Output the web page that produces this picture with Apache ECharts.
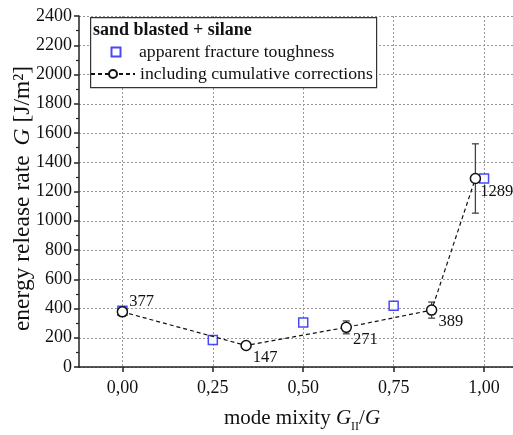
<!DOCTYPE html>
<html><head><meta charset="utf-8">
<script src="https://cdn.jsdelivr.net/npm/echarts@6/dist/echarts.min.js"></script>
<style>html,body{margin:0;padding:0;background:#fff}#c{width:513px;height:435px}</style>
</head><body><div id="c"></div>
<script>
// ---- data ----
const apparentX = [0, 0.25, 0.5, 0.75, 1.0];
const apparentY = [384, 184, 305, 418, 1289];
const cumX = [0, 0.342, 0.619, 0.855, 0.976];
const cumY = [377, 147, 271, 389, 1289];
const cumErr = [28, 15, 44, 55, 237];
const xTicks = [0, 0.25, 0.5, 0.75, 1.0];
const yTicks = [0, 200, 400, 600, 800, 1000, 1200, 1400, 1600, 1800, 2000, 2200, 2400];
const legendTitle = 'sand blasted + silane';
const nameApparent = 'apparent fracture toughness';
const nameCum = 'including cumulative corrections';

const FONT = 'Liberation Serif';
const chart = echarts.init(document.getElementById('c'), null, {renderer: 'canvas'});
const grid = {left: 79, right: 0, top: 16, bottom: 68, containLabel: false, outerBoundsMode: 'none'};
const gridLine = {show: true, lineStyle: {color: '#999', type: [2, 2], width: 1}};

const labelOffsets = [[1, -10], [1, 12], [1, 12], [1, 12], [-1, 13]];

chart.setOption({
  animation: false,
  backgroundColor: '#fff',
  grid: grid,
  xAxis: {
    type: 'value', min: -0.12, max: 1.08,
    axisLine: {show: true, onZero: false, lineStyle: {color: '#222', width: 1.5}},
    axisTick: {show: true, customValues: xTicks, length: 5, lineStyle: {color: '#222', width: 1.5}},
    axisLabel: {customValues: xTicks, margin: 12, fontFamily: FONT, fontSize: 18, color: '#111',
      formatter: v => v.toFixed(2).replace('.', ',')},
    splitLine: gridLine,
    name: '{n|mode mixity }{i|G}{s|II}{n|/}{i|G}',
    nameLocation: 'middle', nameGap: 36, nameMoveOverlap: false,
    nameTextStyle: {padding: [0, 0, 0, 12], rich: {
      n: {fontFamily: FONT, fontSize: 21, color: '#111', lineHeight: 26, verticalAlign: 'bottom'},
      i: {fontFamily: FONT, fontSize: 21, fontStyle: 'italic', color: '#111', lineHeight: 26, verticalAlign: 'bottom'},
      s: {fontFamily: FONT, fontSize: 12, color: '#111', lineHeight: 12, verticalAlign: 'bottom', padding: [0, 0, -4, 0]}
    }}
  },
  yAxis: {
    type: 'value', min: 0, max: 2400, interval: 200,
    axisLine: {show: true, onZero: false, lineStyle: {color: '#222', width: 1.5}},
    axisTick: {show: true, length: 5, lineStyle: {color: '#222', width: 1.5}},
    minorTick: {show: true, splitNumber: 2, length: 3, lineStyle: {color: '#222', width: 1.2}},
    axisLabel: {margin: 7, fontFamily: FONT, fontSize: 18, color: '#111', formatter: v => String(v)},
    splitLine: gridLine,
    name: '{n|energy release rate}{i|G}{n| [J/m²]}',
    nameLocation: 'middle', nameGap: 44, nameMoveOverlap: false,
    nameTextStyle: {padding: [0, 14, 0, 0], rich: {
      n: {fontFamily: FONT, fontSize: 23.5, color: '#111'},
      i: {fontFamily: FONT, fontSize: 23.5, fontStyle: 'italic', color: '#111', padding: [0, 0, 0, 10]}
    }}
  },
  legend: [
    {
      data: [nameApparent], orient: 'vertical', left: 110.5, top: 43, padding: 0,
      itemWidth: 9, itemHeight: 9, z: 6,
      textStyle: {fontFamily: FONT, fontSize: 17.7, color: '#111', padding: [0, 0, 0, 13.5]}
    },
    {
      data: [nameCum], orient: 'vertical', left: 90, top: 65, padding: 0,
      itemWidth: 44, itemHeight: 10, z: 6,
      textStyle: {fontFamily: FONT, fontSize: 17.7, color: '#111'}
    }
  ],
  graphic: [
    {type: 'rect', left: 90, top: 17, z: 4, shape: {width: 286, height: 70},
      style: {fill: '#fff', stroke: '#333', lineWidth: 1.2}},
    {type: 'text', left: 93, top: 21, z: 5,
      style: {text: legendTitle, font: 'bold 18px "Liberation Serif"', fill: '#111'}}
  ],
  series: [
    {
      name: nameApparent, type: 'scatter', z: 2,
      symbol: 'rect', symbolSize: 9,
      itemStyle: {color: '#fff', borderColor: '#1a1aff', borderWidth: 1.5},
      data: apparentX.map((x, i) => [x, apparentY[i]])
    },
    {
      name: 'err', type: 'custom', z: 3,
      renderItem: function (params, api) {
        const x = api.value(0), y = api.value(1), e = api.value(2);
        const hi = api.coord([x, y + e]), lo = api.coord([x, y - e]);
        const w = 3.5;
        const st = {stroke: '#444', lineWidth: 1.3};
        return {type: 'group', children: [
          {type: 'line', shape: {x1: hi[0], y1: hi[1], x2: lo[0], y2: lo[1]}, style: st},
          {type: 'line', shape: {x1: hi[0] - w, y1: hi[1], x2: hi[0] + w, y2: hi[1]}, style: st},
          {type: 'line', shape: {x1: lo[0] - w, y1: lo[1], x2: lo[0] + w, y2: lo[1]}, style: st}
        ]};
      },
      data: cumX.map((x, i) => [x, cumY[i], cumErr[i]])
    },
    {
      name: nameCum, type: 'line', z: 4,
      symbol: 'circle', symbolSize: 10,
      lineStyle: {color: '#111', width: 1.2, type: [4, 3]},
      itemStyle: {color: '#fff', borderColor: '#111', borderWidth: 1.5},
      label: {show: true, position: 'right', distance: 0, fontFamily: FONT, fontSize: 16.5, color: '#111',
        formatter: p => String(p.value[1])},
      data: cumX.map((x, i) => ({value: [x, cumY[i]], label: {offset: labelOffsets[i]}}))
    }
  ]
});
</script>
</body></html>
